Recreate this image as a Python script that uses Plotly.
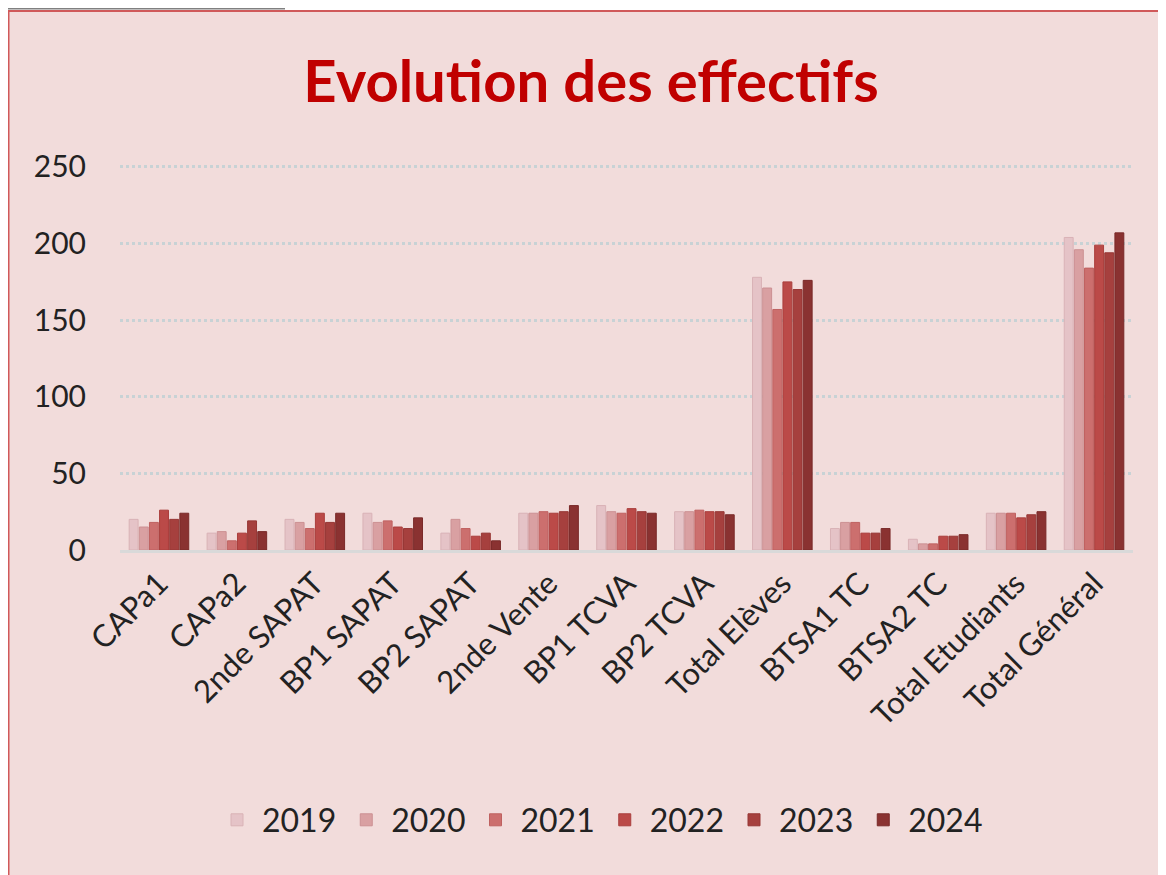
import plotly.graph_objects as go

categories = ["CAPa1", "CAPa2", "2nde SAPAT", "BP1 SAPAT", "BP2 SAPAT", "2nde Vente",
              "BP1 TCVA", "BP2 TCVA", "Total Elèves", "BTSA1 TC", "BTSA2 TC",
              "Total Etudiants", "Total Général"]
years = ["2019", "2020", "2021", "2022", "2023", "2024"]
v2019 = [20, 11, 20, 24, 11, 24, 29, 25, 178, 14, 7, 24, 204]
v2020 = [15, 12, 18, 18, 20, 24, 25, 25, 171, 18, 4, 24, 196]
v2021 = [18, 6, 14, 19, 14, 25, 24, 26, 157, 18, 4, 24, 184]
v2022 = [26, 11, 24, 15, 9, 24, 27, 25, 175, 11, 9, 21, 199]
v2023 = [20, 19, 18, 14, 11, 25, 25, 25, 170, 11, 9, 23, 194]
v2024 = [24, 12, 24, 21, 6, 29, 24, 23, 176, 14, 10, 25, 207]
series = [v2019, v2020, v2021, v2022, v2023, v2024]
colors = ["#E5C3C7", "#D9A0A2", "#CC6F6E", "#BB4A48", "#A6403E", "#8A3231"]
outlines = ["#D9B2B6", "#CC9093", "#BF6160", "#AA3E3C", "#963634", "#7A2A29"]

fig = go.Figure()
for y, vals, c, oc in zip(years, series, colors, outlines):
    fig.add_trace(go.Bar(name=y, x=categories, y=vals, marker_color=c,
                         marker_line=dict(color=oc, width=1)))

# page is offset by the 8px body margin
W, H = 1158, 867
L, R, T, B = 112, 33, 157, 325
pw, ph = W - L - R, H - T - B

def px(x):
    return (x - L) / pw

def py(y):
    return (H - B - y) / ph

FONT = "Lato, 'Open Sans', sans-serif"

fig.update_layout(
    width=W, height=H,
    margin=dict(l=L, r=R, t=T, b=B),
    paper_bgcolor="white",
    plot_bgcolor="rgba(0,0,0,0)",
    barmode="group", bargap=0.22, bargroupgap=0.12,
    font=dict(family=FONT, color="#222222", size=26),
    title=dict(text="<b>Evolution des effectifs</b>", x=583 / W, xanchor="center",
               y=1 - 74 / H, yanchor="middle",
               font=dict(size=58, color="#C00000", family=FONT)),
    showlegend=True,
    legend=dict(orientation="h", x=px(592), xanchor="center", y=py(812), yanchor="middle",
                font=dict(size=32, color="#222222"), bgcolor="rgba(0,0,0,0)",
                itemwidth=40, traceorder="normal"),
    xaxis=dict(tickangle=-45, tickfont=dict(size=31), showgrid=False, showline=True,
               linecolor="#D9D9D9", linewidth=3, ticks=""),
    yaxis=dict(range=[0, 251.3], tickvals=[0, 50, 100, 150, 200, 250],
               tickfont=dict(size=30), showgrid=True,
               gridcolor="#C8D2D5", gridwidth=3, griddash="dot", zeroline=False,
               showline=False, ticks="", ticklabelstandoff=33),
    shapes=[
        dict(type="rect", xref="paper", yref="paper", x0=px(0.5), x1=px(W + 20),
             y0=py(H + 20), y1=py(3), fillcolor="#F2DCDB",
             line=dict(color="#D0595A", width=2), layer="below"),
        dict(type="line", xref="paper", yref="paper", x0=px(-10), x1=px(277),
             y0=py(0.5), y1=py(0.5), line=dict(color="#808080", width=2), layer="below"),
    ],
)

fig.write_html("out.html")
